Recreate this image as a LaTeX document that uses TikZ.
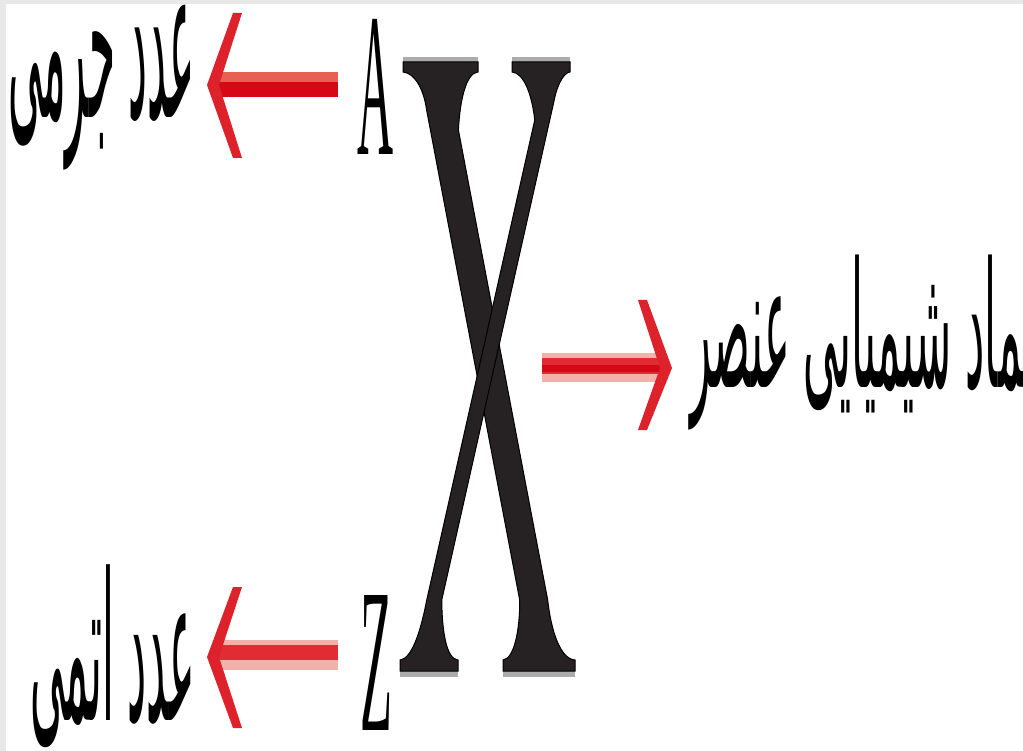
\documentclass[tikz,border=0pt]{standalone}
\usepackage{fontspec}
\usepackage{graphicx}
\usetikzlibrary{calc}
\setmainfont{Liberation Serif}
\newfontfamily\arabicfont[Script=Arabic]{DejaVu Sans}
\TeXXeTstate=1
\definecolor{redD}{RGB}{214,8,24}
\definecolor{redM}{RGB}{224,44,50}
\definecolor{redL}{RGB}{230,96,84}
\definecolor{pinkL}{RGB}{242,178,172}
\definecolor{chev}{RGB}{222,34,44}
\definecolor{xfill}{RGB}{38,34,35}
\definecolor{sgray}{RGB}{172,172,172}
\definecolor{edge}{RGB}{232,232,232}
\tikzset{
  lbl/.style={inner sep=0pt, outer sep=0pt},
  chevron/.style={fill=chev},
  glyph/.style={fill=xfill, draw=black, line width=1pt}
}
\begin{document}
\begin{tikzpicture}[x=1pt,y=-1pt]
\useasboundingbox (0,0) rectangle (1023,751);
\fill[white] (0,0) rectangle (1023,751);
\fill[edge] (0,0) rectangle (1023,4);
\fill[edge] (0,0) rectangle (6,751);

% --- the big X ---
\fill[sgray] (403,57) rectangle (478,63);
\fill[sgray] (512,57) rectangle (570,63);
\fill[sgray] (400,670) rectangle (458,677);
\fill[sgray] (503,670) rectangle (575,677);
\path[glyph] (403,62) -- (478,62) -- (478,72)
  .. controls (466,73) and (460,100) .. (458.4,130)
  -- (547.7,600)
  .. controls (551,630) and (560,659) .. (575,660)
  -- (575,671) -- (503,671) -- (503,660)
  .. controls (514,659) and (520,630) .. (519.7,600)
  -- (426.6,110)
  .. controls (424,90) and (415,73) .. (403,72) -- cycle;
\path[glyph] (512,62) -- (570,62) -- (570,72)
  .. controls (562,73) and (556,90) .. (554.25,100)
  -- (441.75,600)
  .. controls (442,630) and (446,659) .. (458,660)
  -- (458,671) -- (400,671) -- (400,660)
  .. controls (412,659) and (421,630) .. (426.75,600)
  -- (534.75,120)
  .. controls (532,95) and (524,73) .. (512,72) -- cycle;
\coordinate (X) at (488,365);
\coordinate (Xr) at (542,368);

% --- A and Z ---
\node[lbl, anchor=south west] (A) at (357,155) {\resizebox*{36pt}{135pt}{A}};
\node[lbl, anchor=south west] (Z) at (360,730) {\resizebox*{32pt}{135pt}{Z}};

% --- texts ---
\node[lbl, anchor=north west] (mass) at (8,5)
  {\resizebox*{187pt}{165pt}{\arabicfont\beginR عدد جرمی\endR}};
\node[lbl, anchor=north west] (atomic) at (30,565)
  {\resizebox*{165pt}{183pt}{\arabicfont\beginR عدد اتمی\endR}};
\begin{scope}
\clip (0,0) rectangle (1023,751);
\node[lbl, anchor=north west] (symbol) at (690,255)
  {\resizebox*{345pt}{175pt}{\arabicfont\beginR نماد شیمیایی عنصر\endR}};
\end{scope}

% --- arrow A -> mass number ---
\coordinate (a1s) at (338,85);
\coordinate (a1t) at (207,85);
\fill[redL] (a1s) ++(0,-13) rectangle ($(a1t)+(8,-3)$);
\fill[redD] (a1s) ++(0,-3) rectangle ($(a1t)+(8,12)$);
\fill[chevron] (a1t) -- ++(26,-72) -- ++(9,0) -- ($(a1t)+(12,0)$) -- ++(23,73) -- ++(-9,0) -- cycle;

% --- arrow Z -> atomic number ---
\coordinate (a2s) at (338,657);
\coordinate (a2t) at (207,657);
\fill[pinkL] (a2s) ++(0,-17) rectangle ($(a2t)+(8,13)$);
\fill[redM] (a2s) ++(0,-12) rectangle ($(a2t)+(8,3)$);
\fill[chevron] (a2t) -- ++(26,-70) -- ++(9,0) -- ($(a2t)+(12,0)$) -- ++(23,71) -- ++(-9,0) -- cycle;

% --- arrow X -> symbol ---
\coordinate (a3t) at (672,368);
\fill[pinkL] (Xr) ++(0,-15) rectangle ($(a3t)+(-8,14)$);
\fill[redM] (Xr) ++(0,-10) rectangle ($(a3t)+(-8,6)$);
\fill[redD] (Xr) ++(0,-3) rectangle ($(a3t)+(-8,4)$);
\fill[chevron] (a3t) -- ++(-25,-68) -- ++(-9,0) -- ($(a3t)+(-12,0)$) -- ++(-22,62) -- ++(9,0) -- cycle;
\end{tikzpicture}
\end{document}
